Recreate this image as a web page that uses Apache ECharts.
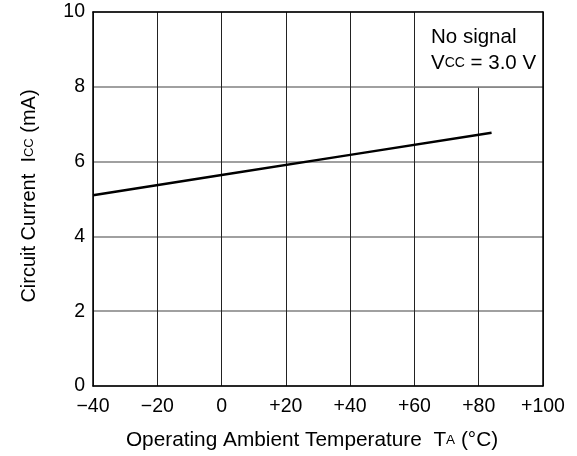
<!DOCTYPE html>
<html>
<head>
<meta charset="utf-8">
<script src="https://cdn.jsdelivr.net/npm/echarts@6/dist/echarts.min.js"></script>
<style>
  html, body { margin: 0; padding: 0; background: #fff; }
  #chart { width: 577px; height: 456px; }
</style>
</head>
<body>
<div id="chart"></div>
<script>
// Circuit current vs. ambient temperature (no signal, Vcc = 3.0 V)
var temperatures = [-40, 0, 40, 84];          // °C
var currents     = [5.1, 5.64, 6.18, 6.77];   // mA
var xTicks = { min: -40, max: 100, step: 20 };
var yTicks = { min: 0, max: 10, step: 2 };

var FONT = '"Liberation Sans", Arial, Helvetica, sans-serif';

function fmtTemp(v) {
  if (v < 0) return '\u2212' + Math.abs(v);
  if (v > 0) return '+' + v;
  return '0';
}

var chart = echarts.init(document.getElementById('chart'), null, { renderer: 'canvas' });

var option = {
  animation: false,
  backgroundColor: '#ffffff',
  textStyle: { fontFamily: FONT },
  grid: { left: 93, top: 12, width: 450, height: 375, containLabel: false },
  xAxis: [{
    type: 'value',
    min: xTicks.min, max: xTicks.max, interval: xTicks.step,
    axisLine: { show: true, onZero: false, lineStyle: { color: '#000', width: 1.5 } },
    axisTick: { show: false },
    splitLine: { show: true, lineStyle: { color: '#222', width: 1 } },
    axisLabel: { formatter: fmtTemp, color: '#000', fontSize: 19.5, fontFamily: FONT, margin: 11 },
    name: '{t|Operating Ambient Temperature  T}{s|A}{t| (\u00B0C)}',
    nameLocation: 'middle', nameGap: 44,
    nameTextStyle: {
      padding: [0, 12, 0, 0],
      rich: {
        t: { fontSize: 20.8, color: '#000', fontFamily: FONT },
        s: { fontSize: 13.5, color: '#000', fontFamily: FONT }
      }
    }
  }, {
    type: 'value', position: 'top',
    min: xTicks.min, max: xTicks.max,
    axisLine: { show: true, onZero: false, lineStyle: { color: '#000', width: 1.5 } },
    axisTick: { show: false }, axisLabel: { show: false }, splitLine: { show: false },
    z: 5
  }],
  yAxis: [{
    type: 'value',
    min: yTicks.min, max: yTicks.max, interval: yTicks.step,
    axisLine: { show: true, onZero: false, lineStyle: { color: '#000', width: 1.5 } },
    axisTick: { show: false },
    splitLine: { show: true, lineStyle: { color: '#808080', width: 1.5 } },
    axisLabel: { color: '#000', fontSize: 19.5, fontFamily: FONT, margin: 8 },
    name: '{t|Circuit Current  I}{s|CC}{t| (mA)}',
    nameLocation: 'middle', nameGap: 54, nameRotate: 90,
    nameTextStyle: {
      padding: [0, 0, 0, 6],
      rich: {
        t: { fontSize: 20, color: '#000', fontFamily: FONT },
        s: { fontSize: 13, color: '#000', fontFamily: FONT }
      }
    }
  }, {
    type: 'value', position: 'right',
    min: yTicks.min, max: yTicks.max,
    axisLine: { show: true, onZero: false, lineStyle: { color: '#000', width: 1.5 } },
    axisTick: { show: false }, axisLabel: { show: false }, splitLine: { show: false },
    z: 5
  }],
  series: [{
    type: 'line',
    data: temperatures.map(function (t, i) { return [t, currents[i]]; }),
    showSymbol: false,
    lineStyle: { color: '#000', width: 2.5 },
    z: 4,
    // white panel holding the test-condition note
    markArea: {
      silent: true,
      itemStyle: { color: '#fff' },
      data: [[{ coord: [60, 8] }, { coord: [100, 10] }]],
      z: 3
    },
    markLine: {
      silent: true, symbol: 'none', label: { show: false },
      data: [
        [{ coord: [60, 8], lineStyle: { color: '#222', width: 1, type: 'solid' } },
         { coord: [60, 10] }],
        [{ coord: [60, 8], lineStyle: { color: '#808080', width: 1.5, type: 'solid' } },
         { coord: [100, 8] }]
      ],
      z: 4
    }
  }],
  graphic: [{
    type: 'text',
    left: 431, top: 27,
    z: 10,
    style: {
      text: '{t|No signal}\n{t|V}{s|CC}{t| = 3.0 V}',
      rich: {
        t: { fontSize: 20.5, fill: '#000', fontFamily: FONT, lineHeight: 26 },
        s: { fontSize: 14, fill: '#000', fontFamily: FONT, lineHeight: 26 }
      }
    }
  }]
};

chart.setOption(option);
</script>
</body>
</html>
